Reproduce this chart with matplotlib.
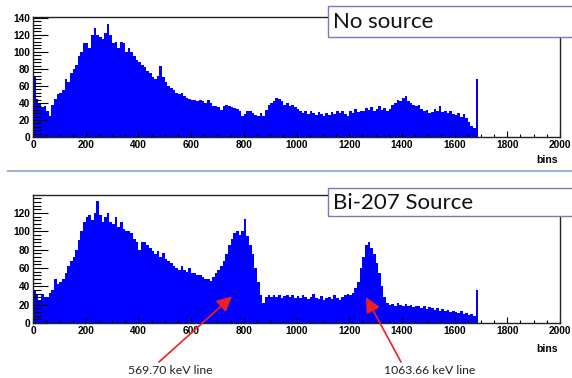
import numpy as np
import matplotlib.pyplot as plt
from matplotlib.ticker import MultipleLocator
from matplotlib.patches import Rectangle
from matplotlib.lines import Line2D

# ---------------------------------------------------------------------------
# Spectra, 10-bin wide groups starting at bin 0
# ---------------------------------------------------------------------------
bin_width = 10

counts_no_source = [
    70, 45, 40, 35, 37, 30, 25, 38, 45, 50,
    52, 55, 68, 65, 75, 80, 85, 95, 100, 110,
    110, 104, 120, 128, 120, 118, 115, 122, 133, 120,
    110, 112, 105, 112, 110, 100, 105, 100, 95, 90,
    88, 85, 82, 78, 75, 70, 68, 72, 84, 70,
    65, 60, 58, 55, 52, 50, 52, 48, 46, 45,
    43, 44, 42, 44, 42, 40, 44, 40, 36, 36,
    35, 32, 36, 38, 36, 35, 34, 33, 30, 25,
    27, 30, 30, 28, 26, 25, 28, 25, 32, 38,
    40, 42, 46, 45, 42, 38, 40, 37, 38, 35,
    33, 30, 28, 31, 27, 30, 28, 26, 29, 27,
    25, 28, 26, 29, 27, 30, 28, 31, 27, 25,
    30, 28, 33, 29, 31, 30, 34, 32, 35, 31,
    33, 36, 32, 34, 30, 33, 38, 40, 44, 42,
    46, 48, 42, 40, 38, 36, 38, 33, 30, 32,
    28, 29, 33, 30, 36, 29, 31, 28, 30, 27,
    26, 28, 24, 27, 22, 18, 13, 10, 68,
]

counts_bi207 = [
    36, 30, 25, 32, 28, 28, 33, 36, 48, 42,
    45, 48, 55, 62, 68, 72, 80, 90, 100, 110,
    115, 118, 112, 120, 133, 118, 110, 115, 120, 110,
    108, 115, 105, 110, 102, 100, 100, 98, 92, 88,
    80, 88, 88, 85, 82, 78, 75, 78, 72, 76,
    70, 68, 65, 62, 60, 58, 62, 58, 56, 60,
    55, 54, 52, 52, 50, 48, 48, 46, 50, 55,
    58, 62, 68, 75, 85, 92, 98, 100, 96, 100,
    113, 95, 85, 75, 60, 45, 30, 22, 28, 30,
    28, 30, 28, 30, 27, 29, 30, 28, 31, 27,
    29, 27, 30, 28, 26, 28, 32, 27, 26, 29,
    25, 27, 28, 26, 30, 27, 25, 28, 30, 32,
    30, 33, 38, 45, 60, 72, 85, 88, 82, 75,
    65, 55, 40, 28, 22, 20, 21, 19, 22, 20,
    18, 21, 19, 20, 17, 19, 18, 16, 18, 15,
    17, 16, 14, 16, 13, 15, 13, 14, 12, 13,
    12, 11, 13, 10, 11, 9, 10, 8, 36,
]

panel_titles = ['No source', 'Bi-207 Source']
line_labels = ['569.70 keV line', '1063.66 keV line']
line_bins = [755, 1264]
line_counts = [29, 28]

W, H = 572, 378
fig = plt.figure(figsize=(W / 100, H / 100), dpi=100)
fig.patch.set_facecolor('white')


def fx(px):
    return px / W


def fy(py):
    return 1 - py / H


def draw_panel(rect, counts, ymax, yticks):
    ax = fig.add_axes(rect)
    edges = np.arange(len(counts) + 1) * bin_width
    ax.stairs(counts, edges, fill=True, color='#0000ff', lw=0)
    ax.set_xlim(0, 2000)
    ax.set_ylim(0, ymax)
    ax.set_xticks(np.arange(0, 2001, 200))
    ax.set_yticks(yticks)
    ax.xaxis.set_minor_locator(MultipleLocator(50))
    ax.yaxis.set_minor_locator(MultipleLocator(4))
    ax.tick_params(axis='both', which='both', direction='in', top=False, right=False,
                   labelsize=7.3, width=0.8, colors='black')
    ax.tick_params(axis='y', which='major', length=11, pad=2)
    ax.tick_params(axis='y', which='minor', length=6)
    ax.tick_params(axis='x', which='major', length=4, pad=2)
    ax.tick_params(axis='x', which='minor', length=2)
    for lab in ax.get_xticklabels() + ax.get_yticklabels():
        lab.set_fontweight('bold')
        lab.set_family('Liberation Sans')
    for sp in ax.spines.values():
        sp.set_color('#222222')
        sp.set_linewidth(1.0)
    return ax


ax1 = draw_panel([fx(33), fy(137), fx(560) - fx(33), fy(17) - fy(137)],
                 counts_no_source, 141, np.arange(0, 141, 20))
ax2 = draw_panel([fx(33), fy(323), fx(560) - fx(33), fy(195) - fy(323)],
                 counts_bi207, 139.5, np.arange(0, 121, 20))

# axis titles
for py in (160, 349):
    fig.text(fx(558), fy(py), 'bins', ha='right', va='center', fontsize=7.5,
             fontweight='bold', family='Liberation Sans')

# title boxes
for (top, bottom), title in zip([(6, 37), (188, 216)], panel_titles):
    fig.add_artist(Rectangle((fx(328), fy(bottom)), fx(600) - fx(328), fy(top) - fy(bottom),
                             transform=fig.transFigure, facecolor='white',
                             edgecolor='#7a7ab8', lw=1.0))
    fig.text(fx(333), fy((top + bottom) / 2 + 1), title, ha='left', va='center',
             fontsize=16, family='Lato', color='#111111')

# separator between panels
fig.add_artist(Line2D([fx(8), fx(572)], [fy(171), fy(171)], transform=fig.transFigure,
                      color='#9db3d0', lw=1.5))

# energy line annotations
starts = [(159, 362), (401, 362)]
text_pos = [(170, 371), (430, 371)]
for label, xb, yc, (sx, sy), (tx, ty) in zip(line_labels, line_bins, line_counts, starts, text_pos):
    ax2.annotate('', xy=(xb, yc), xycoords='data',
                 xytext=(fx(sx), fy(sy)), textcoords='figure fraction',
                 arrowprops=dict(arrowstyle='-|>,head_length=0.9,head_width=0.45',
                                 color='#f02020', lw=1.2, shrinkA=0, shrinkB=0),
                 annotation_clip=False)
    fig.text(fx(tx), fy(ty), label, ha='center', va='center', fontsize=8.8,
             family='Lato', color='#222222')

plt.savefig('out.png', dpi=100, facecolor='white')
